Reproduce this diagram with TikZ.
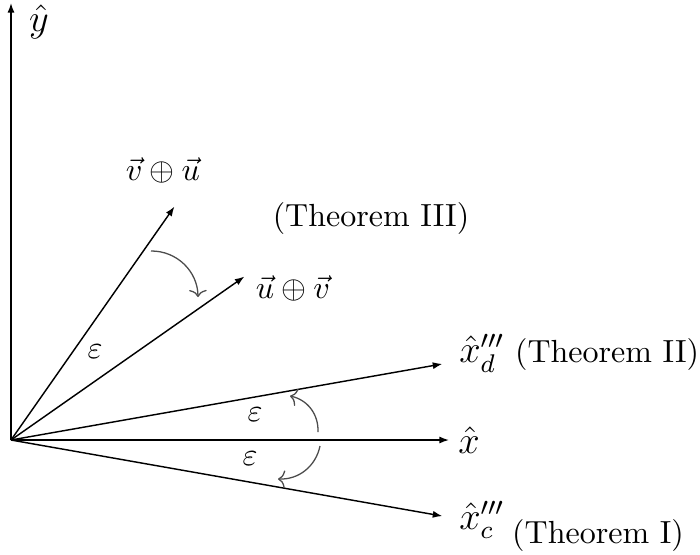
\documentclass[tikz,border=0pt]{standalone}
\usepackage{amsmath,amssymb}
\usetikzlibrary{arrows.meta,positioning}

\begin{document}
\begin{tikzpicture}[x=0.3125pt,y=0.3125pt,
  vec/.style={-{Latex[length=3pt,width=2.2pt]},line width=0.45pt},
  turn/.style={-{To[length=2.2pt,width=5.5pt]},black!70,line width=0.4pt}]
  \useasboundingbox (-11,-114) rectangle (689,440);
  \coordinate (O) at (0,0);
  % axes and rotated vectors
  \foreach \ang/\len/\tip in {90/437/ytip, 0/438/xtip, 10/438/xdtip,
    -10/438/xctip, 35/285/uvtip, 55/285/vutip} {
    \coordinate (\tip) at (\ang:\len);
    \draw[vec] (O) -- (\tip);
  }
  \node (ylab) at (28,418) {\large$\hat{y}$};
  \node[anchor=west] (xlab) at (436,0) {\large$\hat{x}$};
  \node[anchor=west] (xdlab) at (437,87) {{\large$\hat{x}_d'''$} (Theorem II)};
  \node[anchor=west] (xclab) at (437,-80) {\large$\hat{x}_c'''$};
  \node (thmI) at (587,-95) {(Theorem I)};
  \node (vulab) at (152,270) {$\vec{v}\oplus\vec{u}$};
  \node (thmIII) at (360,222) {(Theorem III)};
  \node (uvlab) at (282,152) {$\vec{u}\oplus\vec{v}$};
  % angle labels
  \foreach \x/\y/\nm in {84/88/epsA, 244/25/epsB, 239/-19/epsC}
    \node (\nm) at (\x,\y) {$\varepsilon$};
  % turning arrows
  \coordinate (swapS) at (140,189);
  \coordinate (swapE) at (187,143);
  \coordinate (dS) at (307,8);
  \coordinate (dE) at (279,44);
  \coordinate (cS) at (309,-6);
  \coordinate (cE) at (267,-39);
  \draw[turn] (swapS) to[bend left=45] (swapE);
  \draw[turn] (dS) to[bend right=40] (dE);
  \draw[turn] (cS) to[bend left=40] (cE);
\end{tikzpicture}
\end{document}
